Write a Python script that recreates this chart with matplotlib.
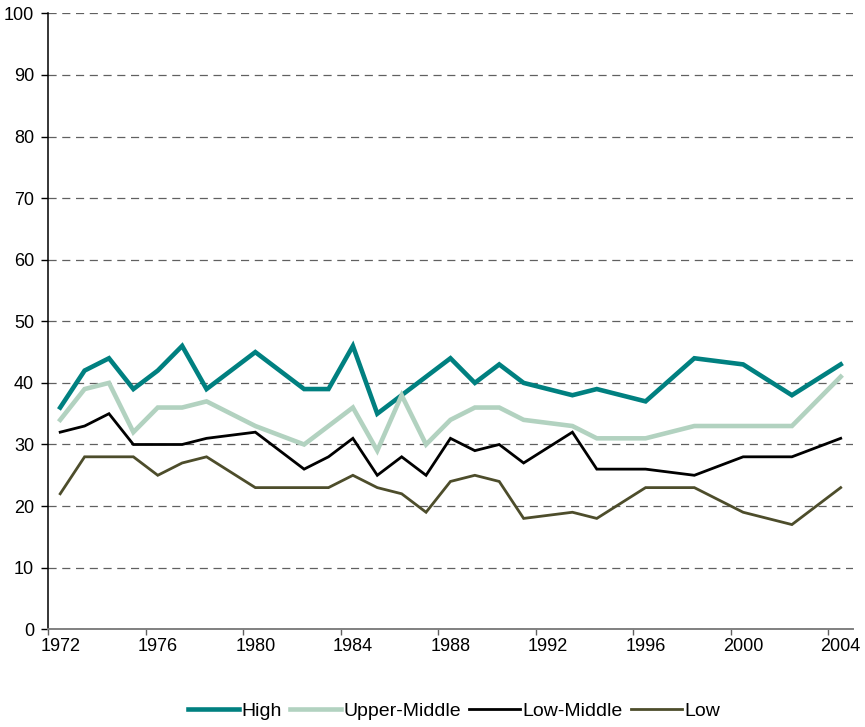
import matplotlib.pyplot as plt
import numpy as np

plt.rcParams['font.family'] = ['Liberation Sans', 'DejaVu Sans']

# Data
years = np.array([1972, 1973, 1974, 1975, 1976, 1977, 1978, 1980, 1982, 1983,
                  1984, 1985, 1986, 1987, 1988, 1989, 1990, 1991, 1993, 1994,
                  1996, 1998, 2000, 2002, 2004])
high = [36, 42, 44, 39, 42, 46, 39, 45, 39, 39, 46, 35, 38, 41, 44, 40, 43, 40,
        38, 39, 37, 44, 43, 38, 43]
upper_middle = [34, 39, 40, 32, 36, 36, 37, 33, 30, 33, 36, 29, 38, 30, 34, 36,
                36, 34, 33, 31, 31, 33, 33, 33, 41]
low_middle = [32, 33, 35, 30, 30, 30, 31, 32, 26, 28, 31, 25, 28, 25, 31, 29,
              30, 27, 32, 26, 26, 25, 28, 28, 31]
low = [22, 28, 28, 28, 25, 27, 28, 23, 23, 23, 25, 23, 22, 19, 24, 25, 24, 18,
       19, 18, 23, 23, 19, 17, 23]
tick_years = [1972, 1976, 1980, 1984, 1988, 1992, 1996, 2000, 2004]

fig = plt.figure(figsize=(8.65, 7.27), dpi=100)
ax = fig.add_axes([0.0555, 0.1344, 0.9305, 0.8473])

# points sit in the middle of each year, ticks on the year boundaries
x = years + 0.5
ax.plot(x, high, color='#008080', lw=3.3, label='High', solid_joinstyle='miter')
ax.plot(x, upper_middle, color='#b2d2c0', lw=3.3, label='Upper-Middle', solid_joinstyle='miter')
ax.plot(x, low_middle, color='black', lw=2.0, label='Low-Middle', solid_joinstyle='miter')
ax.plot(x, low, color='#4d4d2b', lw=2.0, label='Low', solid_joinstyle='miter')

ax.set_xlim(1972, 2005)
ax.set_ylim(0, 100)

ax.set_yticks(np.arange(0, 101, 10))
ax.yaxis.grid(True, color='#606060', lw=0.9, linestyle=(0, (6.5, 4.5)))
ax.set_axisbelow(True)

ax.set_xticks(tick_years)
ax.set_xticklabels([])
ax.set_xticks([t + 0.5 for t in tick_years], minor=True)
ax.set_xticklabels([str(t) for t in tick_years], minor=True)
ax.tick_params(axis='x', which='major', length=4, width=1, color='#606060', direction='out')
ax.tick_params(axis='x', which='minor', length=0, pad=6, labelsize=13)
ax.tick_params(axis='y', length=5, width=1, direction='out', pad=5, labelsize=13)

for s in ['top', 'right']:
    ax.spines[s].set_visible(False)
ax.spines['bottom'].set_color('#808080')
ax.spines['bottom'].set_linewidth(1.4)
ax.spines['left'].set_linewidth(1.1)

fig.legend(loc='center', bbox_to_anchor=(0.525, 0.022), ncol=4, frameon=False,
           fontsize=14, handlelength=2.6, handletextpad=0.12, columnspacing=0.45)

fig.savefig('out.png', dpi=100)
